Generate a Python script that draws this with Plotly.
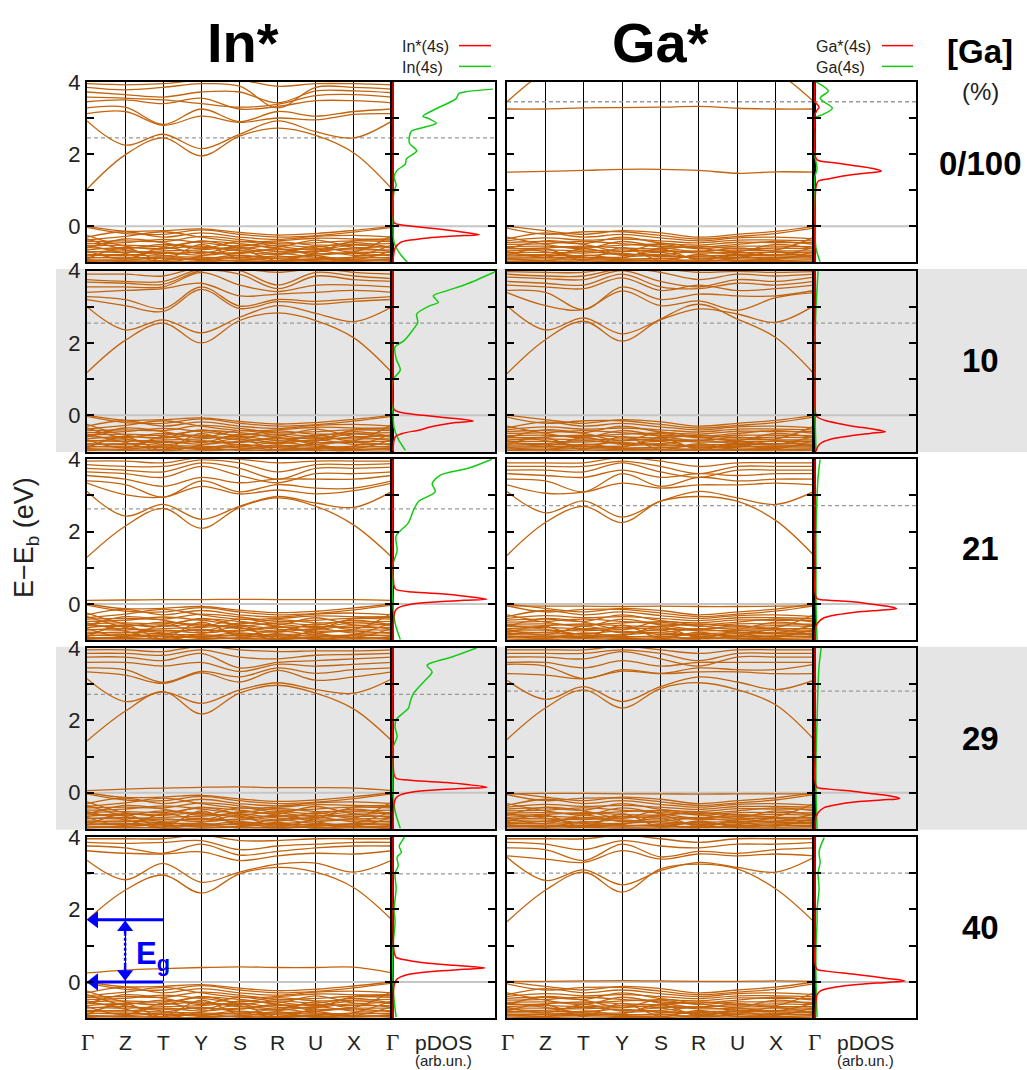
import plotly.graph_objects as go

W, H = 1027, 1070

# ---------------- data ----------------
K_LABELS = ["Γ", "Z", "T", "Y", "S", "R", "U", "X", "Γ"]
K_POS = [0, 1, 2, 3, 4, 5, 6, 7, 8]
ROW_LABELS = ["0/100", "10", "21", "29", "40"]
COL_TITLES = ["In*", "Ga*"]
RED_NAMES = ["In*(4s)", "Ga*(4s)"]
GREEN_NAMES = ["In(4s)", "Ga(4s)"]
E_MAJOR = [0, 2, 4]
E_MINOR_STEP = 1
DASHED_IN = [2.45, 2.55, 2.63, 2.72, 2.98]
DASHED_GA = [3.45, 2.55, 2.72, 2.81, 3.00]
EG_TOP = 1.72

# valence-band tangle (values at Γ Z T Y S R U X Γ)
VB_IN = [
    [0.00, -0.13, -0.12, -0.07, -0.17, -0.24, -0.20, -0.11, 0.00],
    [-0.03, -0.20, -0.22, -0.10, -0.22, -0.30, -0.26, -0.16, -0.03],
    [-0.30, -0.15, -0.30, -0.18, -0.30, -0.36, -0.28, -0.25, -0.30],
    [-0.38, -0.28, -0.15, -0.30, -0.42, -0.40, -0.33, -0.35, -0.38],
    [-0.42, -0.40, -0.42, -0.28, -0.36, -0.48, -0.45, -0.40, -0.42],
    [-0.48, -0.45, -0.36, -0.45, -0.55, -0.43, -0.52, -0.50, -0.48],
    [-0.55, -0.52, -0.55, -0.42, -0.48, -0.58, -0.38, -0.58, -0.55],
    [-0.58, -0.62, -0.50, -0.58, -0.62, -0.52, -0.58, -0.45, -0.58],
    [-0.65, -0.58, -0.62, -0.55, -0.68, -0.65, -0.62, -0.65, -0.65],
    [-0.70, -0.72, -0.68, -0.65, -0.58, -0.70, -0.70, -0.60, -0.70],
    [-0.72, -0.68, -0.75, -0.72, -0.75, -0.62, -0.75, -0.72, -0.72],
    [-0.78, -0.80, -0.72, -0.80, -0.72, -0.78, -0.68, -0.80, -0.78],
    [-0.82, -0.78, -0.82, -0.70, -0.82, -0.85, -0.80, -0.75, -0.82],
    [-0.86, -0.88, -0.85, -0.85, -0.88, -0.75, -0.85, -0.88, -0.86],
    [-0.88, -0.85, -0.90, -0.90, -0.80, -0.90, -0.92, -0.85, -0.88],
    [-0.92, -0.93, -0.88, -0.95, -0.93, -0.88, -0.88, -0.93, -0.92],
    [-0.95, -0.97, -0.95, -0.88, -0.97, -0.95, -0.96, -0.97, -0.95],
    [-0.98, -0.95, -0.98, -0.98, -0.95, -0.98, -0.95, -1.02, -0.98],
    [-0.60, -0.35, -0.45, -0.62, -0.42, -0.55, -0.65, -0.52, -0.60],
    [-0.25, -0.55, -0.62, -0.40, -0.60, -0.75, -0.55, -0.70, -0.25],
    [-0.68, -0.90, -0.58, -0.75, -0.52, -0.62, -0.80, -0.92, -0.68],
    [-0.35, -0.65, -0.80, -0.92, -0.85, -0.95, -0.72, -0.40, -0.35],
    [-0.52, -0.75, -0.95, -0.50, -0.90, -0.82, -0.98, -0.85, -0.52],
    [-0.90, -0.60, -0.98, -0.82, -0.65, -0.96, -0.90, -0.95, -0.90],
]
VB_GA = [
    [0.00, -0.12, -0.22, -0.12, -0.18, -0.30, -0.22, -0.14, 0.00],
    [-0.05, -0.22, -0.15, -0.15, -0.25, -0.35, -0.28, -0.20, -0.05],
    [-0.35, -0.18, -0.30, -0.22, -0.32, -0.40, -0.32, -0.30, -0.35],
    [-0.40, -0.32, -0.38, -0.35, -0.40, -0.46, -0.38, -0.38, -0.40],
    [-0.45, -0.42, -0.48, -0.30, -0.46, -0.52, -0.44, -0.45, -0.45],
    [-0.50, -0.48, -0.42, -0.48, -0.55, -0.58, -0.50, -0.42, -0.50],
    [-0.56, -0.55, -0.58, -0.52, -0.50, -0.62, -0.55, -0.55, -0.56],
    [-0.62, -0.60, -0.55, -0.60, -0.62, -0.55, -0.62, -0.60, -0.62],
    [-0.68, -0.65, -0.68, -0.65, -0.70, -0.68, -0.66, -0.68, -0.68],
    [-0.72, -0.72, -0.74, -0.70, -0.66, -0.74, -0.72, -0.72, -0.72],
    [-0.76, -0.78, -0.70, -0.78, -0.78, -0.70, -0.78, -0.78, -0.76],
    [-0.82, -0.80, -0.82, -0.75, -0.84, -0.82, -0.80, -0.82, -0.82],
    [-0.85, -0.86, -0.86, -0.85, -0.80, -0.88, -0.86, -0.86, -0.85],
    [-0.90, -0.90, -0.90, -0.90, -0.90, -0.84, -0.90, -0.90, -0.90],
    [-0.93, -0.94, -0.92, -0.95, -0.94, -0.93, -0.94, -0.95, -0.93],
    [-0.97, -0.98, -0.96, -0.98, -0.98, -0.96, -0.97, -0.98, -0.97],
    [-0.30, -0.50, -0.62, -0.42, -0.58, -0.70, -0.60, -0.65, -0.30],
    [-0.62, -0.40, -0.50, -0.70, -0.48, -0.60, -0.70, -0.50, -0.62],
    [-0.70, -0.85, -0.62, -0.80, -0.72, -0.90, -0.82, -0.92, -0.70],
    [-0.58, -0.70, -0.85, -0.92, -0.88, -0.97, -0.74, -0.80, -0.58],
    [-0.80, -0.62, -0.95, -0.58, -0.95, -0.78, -0.95, -0.88, -0.80],
    [-0.88, -0.95, -0.80, -0.88, -0.62, -0.95, -0.88, -0.70, -0.88],
]

# conduction bands, In* column
CB_IN_0 = [
    [1.03, 1.98, 2.45, 1.95, 2.50, 2.72, 2.52, 2.03, 1.03],
    [2.92, 2.25, 2.55, 2.15, 2.55, 2.92, 2.62, 2.45, 2.92],
    [3.12, 3.18, 2.80, 3.05, 2.88, 3.00, 2.95, 3.10, 3.12],
    [3.28, 3.30, 2.82, 3.25, 2.90, 3.18, 3.05, 3.18, 3.25],
    [3.45, 3.50, 3.40, 3.55, 3.25, 3.32, 3.48, 3.48, 3.42],
    [3.58, 3.55, 3.50, 3.40, 3.30, 3.38, 3.62, 3.65, 3.58],
    [3.72, 3.65, 3.58, 3.72, 3.72, 3.42, 3.75, 3.75, 3.70],
    [3.85, 3.78, 3.85, 3.95, 3.88, 3.28, 3.85, 3.85, 3.80],
    [3.95, 3.92, 3.95, 4.05, 4.05, 3.88, 3.95, 3.95, 3.92],
]
CB_IN_1 = [
    [1.18, 2.07, 2.55, 2.00, 2.62, 2.83, 2.62, 2.14, 1.18],
    [3.00, 2.36, 2.64, 2.28, 2.71, 3.03, 2.82, 2.59, 3.00],
    [3.20, 3.03, 2.87, 3.48, 2.95, 3.14, 3.07, 3.15, 3.20],
    [3.28, 3.20, 2.95, 3.55, 3.02, 3.20, 3.15, 3.22, 3.28],
    [3.40, 3.45, 3.50, 3.65, 3.30, 3.35, 3.40, 3.45, 3.40],
    [3.55, 3.55, 3.55, 3.95, 3.60, 3.42, 3.60, 3.60, 3.55],
    [3.68, 3.65, 3.62, 4.00, 3.90, 3.50, 3.85, 3.75, 3.70],
    [3.75, 3.70, 3.70, 4.05, 4.00, 3.60, 3.95, 3.85, 3.78],
    [3.90, 3.90, 3.85, 4.10, 4.05, 3.95, 4.05, 3.95, 3.90],
]
CB_IN_2 = [
    [1.29, 2.15, 2.64, 2.09, 2.67, 2.93, 2.70, 2.18, 1.29],
    [3.11, 2.43, 2.75, 2.34, 2.70, 2.97, 2.79, 2.67, 3.11],
    [3.34, 3.02, 2.95, 3.25, 3.04, 3.15, 3.04, 3.13, 3.34],
    [3.40, 3.30, 2.95, 3.40, 3.10, 3.30, 3.20, 3.20, 3.40],
    [3.55, 3.45, 3.25, 3.50, 3.35, 3.45, 3.45, 3.45, 3.55],
    [3.65, 3.60, 3.50, 3.80, 3.55, 3.35, 3.60, 3.60, 3.65],
    [3.75, 3.70, 3.65, 3.90, 3.75, 3.45, 3.75, 3.75, 3.78],
    [3.85, 3.80, 3.80, 3.98, 3.90, 3.65, 3.85, 3.85, 3.88],
    [3.95, 3.95, 3.90, 4.05, 4.00, 3.90, 3.95, 3.95, 3.95],
]
CB_IN_3 = [
    [1.43, 2.25, 2.79, 2.18, 2.75, 2.97, 2.75, 2.31, 1.43],
    [3.15, 2.52, 2.79, 2.47, 2.84, 3.04, 2.85, 2.75, 3.15],
    [3.34, 3.25, 3.02, 3.31, 3.06, 3.38, 3.11, 3.20, 3.34],
    [3.45, 3.40, 3.05, 3.35, 3.20, 3.45, 3.30, 3.40, 3.45],
    [3.60, 3.60, 3.50, 3.60, 3.35, 3.55, 3.50, 3.55, 3.60],
    [3.75, 3.75, 3.65, 3.85, 3.45, 3.60, 3.65, 3.70, 3.75],
    [3.85, 3.85, 3.80, 3.95, 3.75, 3.70, 3.80, 3.82, 3.85],
    [3.95, 3.95, 3.90, 4.05, 3.95, 3.90, 3.92, 3.92, 3.95],
]
CB_IN_4 = [
    [1.71, 2.53, 2.95, 2.45, 2.98, 3.16, 3.03, 2.60, 1.71],
    [3.36, 2.82, 3.27, 2.75, 3.03, 3.25, 3.28, 3.03, 3.36],
    [3.62, 3.55, 3.53, 3.59, 3.35, 3.48, 3.55, 3.53, 3.62],
    [3.75, 3.70, 3.55, 3.80, 3.50, 3.60, 3.70, 3.75, 3.75],
    [3.85, 3.82, 3.85, 3.90, 3.65, 3.75, 3.80, 3.85, 3.85],
    [3.95, 3.95, 3.95, 4.05, 3.90, 3.90, 3.95, 3.95, 3.95],
]
# conduction bands, Ga* column
CB_GA_0 = [
    [1.50, 1.52, 1.55, 1.58, 1.58, 1.55, 1.47, 1.51, 1.50],
    [3.25, 3.25, 3.28, 3.29, 3.30, 3.32, 3.27, 3.25, 3.25],
    [3.45, 4.30, 4.80, 4.80, 4.80, 4.80, 4.80, 4.30, 3.45],
]
CB_GA_1 = [
    [1.15, 2.09, 2.60, 2.05, 2.66, 3.07, 2.66, 2.15, 1.15],
    [3.03, 2.36, 2.69, 2.25, 2.64, 2.94, 2.80, 2.57, 3.03],
    [3.39, 3.03, 2.92, 3.44, 3.03, 3.16, 2.90, 3.25, 3.39],
    [3.45, 3.40, 2.92, 3.55, 3.20, 3.35, 3.30, 3.30, 3.45],
    [3.60, 3.55, 3.50, 3.80, 3.45, 3.60, 3.45, 3.50, 3.60],
    [3.70, 3.65, 3.60, 3.90, 3.55, 3.50, 3.65, 3.60, 3.70],
    [3.82, 3.78, 3.75, 4.00, 3.70, 3.55, 3.75, 3.70, 3.82],
    [3.90, 3.85, 3.85, 4.05, 3.95, 3.75, 3.90, 3.85, 3.90],
    [3.97, 3.95, 3.95, 4.10, 4.05, 3.95, 3.98, 3.95, 3.97],
]
CB_GA_2 = [
    [1.34, 2.25, 2.70, 2.25, 2.84, 2.97, 2.84, 2.31, 1.34],
    [3.11, 2.52, 2.85, 2.40, 2.84, 3.11, 2.93, 2.75, 3.11],
    [3.29, 3.06, 3.09, 3.34, 3.20, 3.29, 3.29, 3.34, 3.29],
    [3.45, 3.40, 3.10, 3.60, 3.25, 3.50, 3.40, 3.45, 3.45],
    [3.60, 3.55, 3.50, 3.70, 3.50, 3.60, 3.55, 3.60, 3.60],
    [3.70, 3.70, 3.65, 3.90, 3.65, 3.50, 3.70, 3.70, 3.70],
    [3.80, 3.80, 3.80, 3.95, 3.80, 3.60, 3.80, 3.80, 3.80],
    [3.90, 3.90, 3.90, 4.05, 3.95, 3.80, 3.90, 3.90, 3.90],
]
CB_GA_3 = [
    [1.47, 2.34, 2.84, 2.34, 2.88, 3.04, 2.85, 2.43, 1.47],
    [3.11, 2.58, 2.93, 2.52, 2.93, 3.20, 3.06, 2.85, 3.11],
    [3.29, 3.25, 3.15, 3.36, 3.29, 3.34, 3.34, 3.29, 3.29],
    [3.55, 3.50, 3.15, 3.40, 3.30, 3.45, 3.40, 3.40, 3.55],
    [3.60, 3.60, 3.45, 3.65, 3.50, 3.60, 3.60, 3.60, 3.60],
    [3.75, 3.75, 3.70, 3.90, 3.70, 3.50, 3.75, 3.75, 3.75],
    [3.85, 3.85, 3.85, 3.95, 3.85, 3.65, 3.85, 3.85, 3.85],
    [3.95, 3.95, 3.95, 4.05, 3.95, 3.85, 3.95, 3.95, 3.95],
]
CB_GA_4 = [
    [1.66, 2.53, 3.03, 2.48, 3.12, 3.25, 3.12, 2.57, 1.66],
    [3.44, 2.80, 3.09, 2.68, 3.07, 3.30, 3.16, 3.03, 3.44],
    [3.48, 3.39, 3.30, 3.62, 3.39, 3.53, 3.48, 3.53, 3.48],
    [3.70, 3.65, 3.35, 3.80, 3.45, 3.60, 3.55, 3.65, 3.70],
    [3.85, 3.80, 3.65, 3.90, 3.75, 3.70, 3.80, 3.80, 3.85],
    [3.95, 3.95, 3.95, 4.05, 3.95, 3.85, 3.95, 3.95, 3.95],
]
# defect (starred-atom) bands in the gap
DEF_IN_2 = [0.10, 0.11, 0.12, 0.12, 0.13, 0.12, 0.12, 0.12, 0.10]
DEF_IN_3 = [0.06, 0.10, 0.13, 0.15, 0.16, 0.14, 0.14, 0.13, 0.06]
DEF_IN_4 = [0.25, 0.33, 0.37, 0.40, 0.42, 0.40, 0.40, 0.41, 0.25]
DEF_GA_2 = [-0.05, -0.06, -0.06, -0.07, -0.06, -0.07, -0.07, -0.06, -0.05]
DEF_GA_3 = [-0.03, -0.02, -0.02, -0.03, -0.03, -0.04, -0.03, -0.03, -0.03]
DEF_GA_4 = [0.02, 0.02, 0.03, 0.04, 0.03, 0.02, 0.02, 0.03, 0.02]

# pDOS curves: energies (E) and intensities (I, arb. units)
RED_IN_0_E = [4.0, 1.0, 0.3, 0.1, 0.06, 0.0, -0.05, -0.1, -0.15, -0.2, -0.23, -0.27, -0.32, -0.38, -0.45, -0.6, -1.0]
RED_IN_0_I = [0.01, 0.01, 0.01, 0.02, 0.05, 0.2, 0.38, 0.53, 0.66, 0.78, 0.845, 0.6, 0.35, 0.18, 0.08, 0.03, 0.01]
GRN_IN_0_E = [-1.0, -0.73, -0.45, 0.0, 0.64, 0.96, 1.14, 1.37, 1.55, 1.73, 1.87, 2.09, 2.30, 2.50, 2.64, 2.77, 2.86, 2.98, 3.05, 3.27, 3.53, 3.68, 3.73, 3.80]
GRN_IN_0_I = [0.15, 0.07, 0.02, 0.01, 0.01, 0.02, 0.04, 0.02, 0.05, 0.13, 0.14, 0.24, 0.17, 0.17, 0.19, 0.35, 0.43, 0.36, 0.30, 0.44, 0.62, 0.65, 0.72, 0.98]
RED_IN_1_E = [4.0, 1.0, 0.3, 0.16, 0.1, 0.05, 0.0, -0.05, -0.1, -0.155, -0.2, -0.26, -0.33, -0.41, -0.5, -0.6, -1.0]
RED_IN_1_I = [0.01, 0.01, 0.01, 0.02, 0.06, 0.15, 0.3, 0.48, 0.66, 0.79, 0.62, 0.48, 0.36, 0.26, 0.1, 0.03, 0.01]
GRN_IN_1_E = [-0.97, -0.65, -0.34, 0.03, 0.98, 1.25, 1.57, 1.89, 2.07, 2.35, 2.57, 2.80, 3.03, 3.12, 3.30, 3.44, 3.62, 3.94, 4.1]
GRN_IN_1_I = [0.13, 0.06, 0.02, 0.01, 0.01, 0.08, 0.04, 0.03, 0.12, 0.20, 0.25, 0.24, 0.37, 0.45, 0.40, 0.53, 0.72, 0.98, 1.1]
RED_IN_2_E = [4.0, 1.0, 0.5, 0.4, 0.33, 0.27, 0.2, 0.16, 0.13, 0.1, 0.06, 0.0, -0.08, -0.15, -0.3, -1.0]
RED_IN_2_I = [0.01, 0.01, 0.02, 0.04, 0.2, 0.53, 0.75, 0.86, 0.92, 0.7, 0.45, 0.2, 0.08, 0.04, 0.02, 0.01]
GRN_IN_2_E = [-0.98, -0.53, 0.0, 1.1, 1.47, 1.88, 2.25, 2.6, 2.84, 3.1, 3.33, 3.56, 3.75, 4.0]
GRN_IN_2_I = [0.08, 0.03, 0.01, 0.01, 0.05, 0.04, 0.16, 0.21, 0.26, 0.42, 0.39, 0.47, 0.74, 0.97]
RED_IN_3_E = [4.0, 1.0, 0.5, 0.4, 0.34, 0.28, 0.22, 0.18, 0.15, 0.12, 0.08, 0.02, -0.06, -0.14, -0.3, -1.0]
RED_IN_3_I = [0.01, 0.01, 0.02, 0.04, 0.2, 0.53, 0.75, 0.87, 0.92, 0.7, 0.45, 0.2, 0.08, 0.04, 0.02, 0.01]
GRN_IN_3_E = [-0.98, -0.5, 0.0, 1.0, 1.25, 1.56, 1.8, 2.02, 2.34, 2.55, 2.75, 2.95, 3.1, 3.34, 3.52, 3.75, 4.0]
GRN_IN_3_I = [0.08, 0.03, 0.01, 0.01, 0.01, 0.05, 0.03, 0.04, 0.16, 0.18, 0.21, 0.27, 0.32, 0.39, 0.34, 0.58, 0.82]
RED_IN_4_E = [4.0, 1.5, 0.85, 0.68, 0.6, 0.52, 0.46, 0.42, 0.39, 0.35, 0.3, 0.22, 0.12, 0.05, -0.1, -1.0]
RED_IN_4_I = [0.01, 0.01, 0.02, 0.04, 0.15, 0.35, 0.6, 0.8, 0.90, 0.7, 0.42, 0.18, 0.07, 0.04, 0.02, 0.01]
GRN_IN_4_E = [-0.97, -0.5, 0.0, 1.0, 1.66, 2.0, 2.57, 3.0, 3.2, 3.45, 3.57, 3.75, 3.9, 4.0]
GRN_IN_4_I = [0.04, 0.02, 0.01, 0.01, 0.03, 0.02, 0.04, 0.03, 0.06, 0.05, 0.09, 0.07, 0.10, 0.12]

RED_GA_0_E = [4.0, 3.45, 3.38, 3.3, 3.22, 3.1, 2.5, 2.0, 1.84, 1.76, 1.68, 1.6, 1.53, 1.47, 1.4, 1.32, 1.25, 1.1, 0.5, -1.0]
RED_GA_0_I = [0.01, 0.01, 0.03, 0.05, 0.03, 0.01, 0.01, 0.01, 0.03, 0.2, 0.4, 0.58, 0.66, 0.5, 0.3, 0.15, 0.04, 0.02, 0.01, 0.01]
GRN_GA_0_E = [-0.98, -0.62, 0.0, 1.38, 1.6, 1.93, 3.0, 3.1, 3.27, 3.55, 3.75, 4.0]
GRN_GA_0_I = [0.06, 0.02, 0.01, 0.01, 0.03, 0.01, 0.01, 0.09, 0.18, 0.06, 0.14, 0.02]
RED_GA_1_E = [4.0, 1.0, 0.2, 0.0, -0.06, -0.15, -0.23, -0.3, -0.38, -0.45, -0.5, -0.57, -0.65, -0.75, -0.85, -1.0]
RED_GA_1_I = [0.01, 0.01, 0.01, 0.02, 0.04, 0.12, 0.25, 0.38, 0.58, 0.70, 0.55, 0.35, 0.18, 0.08, 0.04, 0.02]
GRN_GA_1_E = [-1.0, 0.0, 1.0, 2.0, 3.0, 3.5, 4.0]
GRN_GA_1_I = [0.02, 0.01, 0.01, 0.01, 0.02, 0.03, 0.04]
RED_GA_2_E = [4.0, 1.0, 0.3, 0.15, 0.1, 0.06, 0.0, -0.05, -0.09, -0.13, -0.17, -0.22, -0.3, -0.38, -0.48, -0.6, -1.0]
RED_GA_2_I = [0.01, 0.01, 0.01, 0.03, 0.15, 0.38, 0.55, 0.68, 0.77, 0.81, 0.65, 0.42, 0.22, 0.1, 0.05, 0.02, 0.01]
GRN_GA_2_E = [-1.0, 0.0, 1.0, 2.0, 3.0, 3.5, 4.0]
GRN_GA_2_I = [0.03, 0.02, 0.02, 0.02, 0.03, 0.04, 0.06]
RED_GA_3_E = [4.0, 1.0, 0.3, 0.15, 0.1, 0.04, -0.02, -0.07, -0.12, -0.16, -0.2, -0.25, -0.33, -0.41, -0.52, -0.65, -1.0]
RED_GA_3_I = [0.01, 0.01, 0.01, 0.03, 0.15, 0.38, 0.55, 0.7, 0.8, 0.84, 0.66, 0.42, 0.22, 0.1, 0.05, 0.02, 0.01]
GRN_GA_3_E = [-1.0, 0.0, 1.0, 2.0, 3.0, 3.5, 4.0]
GRN_GA_3_I = [0.03, 0.02, 0.02, 0.03, 0.04, 0.05, 0.07]
RED_GA_4_E = [4.0, 1.2, 0.5, 0.35, 0.3, 0.22, 0.15, 0.1, 0.06, 0.03, -0.01, -0.05, -0.1, -0.17, -0.25, -0.35, -0.5, -1.0]
RED_GA_4_I = [0.01, 0.01, 0.01, 0.03, 0.12, 0.38, 0.58, 0.72, 0.84, 0.89, 0.72, 0.5, 0.3, 0.15, 0.06, 0.03, 0.02, 0.01]
GRN_GA_4_E = [-0.97, 0.0, 1.0, 1.66, 2.0, 2.57, 3.0, 3.3, 3.6, 3.98]
GRN_GA_4_I = [0.03, 0.02, 0.02, 0.03, 0.03, 0.05, 0.04, 0.06, 0.05, 0.10]

# ---------------- assembled panel table ----------------
PANELS = [
    [dict(cb=CB_IN_0, dft=None, re=RED_IN_0_E, ri=RED_IN_0_I, ge=GRN_IN_0_E, gi=GRN_IN_0_I, vb=VB_IN, dash=DASHED_IN[0]),
     dict(cb=CB_GA_0, dft=None, re=RED_GA_0_E, ri=RED_GA_0_I, ge=GRN_GA_0_E, gi=GRN_GA_0_I, vb=VB_GA, dash=DASHED_GA[0])],
    [dict(cb=CB_IN_1, dft=None, re=RED_IN_1_E, ri=RED_IN_1_I, ge=GRN_IN_1_E, gi=GRN_IN_1_I, vb=VB_IN, dash=DASHED_IN[1]),
     dict(cb=CB_GA_1, dft=None, re=RED_GA_1_E, ri=RED_GA_1_I, ge=GRN_GA_1_E, gi=GRN_GA_1_I, vb=VB_GA, dash=DASHED_GA[1])],
    [dict(cb=CB_IN_2, dft=DEF_IN_2, re=RED_IN_2_E, ri=RED_IN_2_I, ge=GRN_IN_2_E, gi=GRN_IN_2_I, vb=VB_IN, dash=DASHED_IN[2]),
     dict(cb=CB_GA_2, dft=DEF_GA_2, re=RED_GA_2_E, ri=RED_GA_2_I, ge=GRN_GA_2_E, gi=GRN_GA_2_I, vb=VB_GA, dash=DASHED_GA[2])],
    [dict(cb=CB_IN_3, dft=DEF_IN_3, re=RED_IN_3_E, ri=RED_IN_3_I, ge=GRN_IN_3_E, gi=GRN_IN_3_I, vb=VB_IN, dash=DASHED_IN[3]),
     dict(cb=CB_GA_3, dft=DEF_GA_3, re=RED_GA_3_E, ri=RED_GA_3_I, ge=GRN_GA_3_E, gi=GRN_GA_3_I, vb=VB_GA, dash=DASHED_GA[3])],
    [dict(cb=CB_IN_4, dft=DEF_IN_4, re=RED_IN_4_E, ri=RED_IN_4_I, ge=GRN_IN_4_E, gi=GRN_IN_4_I, vb=VB_IN, dash=DASHED_IN[4]),
     dict(cb=CB_GA_4, dft=DEF_GA_4, re=RED_GA_4_E, ri=RED_GA_4_I, ge=GRN_GA_4_E, gi=GRN_GA_4_I, vb=VB_GA, dash=DASHED_GA[4])],
]

# ---------------- geometry / style ----------------
BAND_X = [(87, 392), (507, 814)]
PDOS_X = [(392, 495), (814, 916)]
ROW_Y = [(70.7, 253.3), (261.5, 444.5), (452.3, 635.3), (643.2, 826.2), (834.3, 1017.7)]
GREY_ROWS = [(260, 445), (642, 827)]
ROW_LABEL_Y = [153, 352, 543, 735, 926]

BAND_COLOR = "#c4640c"
RED = "#ff0000"
GREEN = "#11cc11"
BLUE = "#0000ff"
SANS = "Liberation Sans, Arial, Helvetica, sans-serif"
SERIF = "Liberation Serif, Times New Roman, serif"
TXT = "#222222"


def px(x):
    return x / W


def py(y):
    return 1 - y / H


fig = go.Figure()
layout = {}
annotations = []
shapes = []


def aname(i):
    return ("x", "y") if i == 1 else (f"x{i}", f"y{i}")


def lkey(i):
    return ("xaxis", "yaxis") if i == 1 else (f"xaxis{i}", f"yaxis{i}")


def yaxis_dict(i, ytop, ybot, labels):
    return dict(domain=[py(ybot), py(ytop)], range=[-1, 4], anchor=aname(i)[0],
                tickmode="array", tickvals=E_MAJOR, showticklabels=labels,
                ticks="inside", ticklen=7, tickwidth=1.5, tickcolor="#000000",
                minor=dict(tick0=0, dtick=E_MINOR_STEP, ticks="inside", ticklen=7,
                           tickwidth=1.5, tickcolor="#000000", showgrid=False),
                showgrid=False, zeroline=False, showline=True, linecolor="#000000",
                linewidth=2, mirror="ticks",
                tickfont=dict(family=SANS, size=22, color=TXT), fixedrange=True)


axis_i = 0
band_axes = {}
pdos_axes = {}
for r in range(5):
    for c in range(2):
        p = PANELS[r][c]
        ytop, ybot = ROW_Y[r]
        axis_i += 1
        bi = axis_i
        band_axes[(r, c)] = bi
        kx, ky = lkey(bi)
        layout[kx] = dict(domain=[px(BAND_X[c][0]), px(BAND_X[c][1])], range=[0, 8],
                          anchor=aname(bi)[1], tickvals=K_POS, showticklabels=False,
                          ticks="", showgrid=True, gridcolor="#000000", gridwidth=1,
                          showline=True, linecolor="#000000", linewidth=2, mirror=True,
                          zeroline=False, fixedrange=True)
        layout[ky] = yaxis_dict(bi, ytop, ybot, c == 0)
        axis_i += 1
        pi = axis_i
        pdos_axes[(r, c)] = pi
        kx, ky = lkey(pi)
        layout[kx] = dict(domain=[px(PDOS_X[c][0]), px(PDOS_X[c][1])], range=[0, 1],
                          anchor=aname(pi)[1], showticklabels=False, ticks="", showgrid=False,
                          showline=True, linecolor="#000000", linewidth=2, mirror=True,
                          zeroline=False, fixedrange=True)
        layout[ky] = yaxis_dict(pi, ytop, ybot, False)

        bxa, bya = aname(bi)
        pxa, pya = aname(pi)
        common = dict(mode="lines", hoverinfo="skip", showlegend=False)
        fig.add_trace(go.Scatter(x=[0, 8], y=[0, 0], xaxis=bxa, yaxis=bya,
                                 line=dict(color="#c6c6c6", width=2), **common))
        fig.add_trace(go.Scatter(x=[0, 1], y=[0, 0], xaxis=pxa, yaxis=pya,
                                 line=dict(color="#c6c6c6", width=2), **common))
        fig.add_trace(go.Scatter(x=[0, 8], y=[p["dash"], p["dash"]], xaxis=bxa, yaxis=bya,
                                 line=dict(color="#9a9a9a", width=1.3, dash="4px,3px"), **common))
        fig.add_trace(go.Scatter(x=[0, 1], y=[p["dash"], p["dash"]], xaxis=pxa, yaxis=pya,
                                 line=dict(color="#9a9a9a", width=1.3, dash="4px,3px"), **common))
        bands = list(p["vb"]) + list(p["cb"]) + ([p["dft"]] if p["dft"] else [])
        xs, ys = [], []
        for b in bands:
            xs += K_POS + [None]
            ys += list(b) + [None]
        fig.add_trace(go.Scatter(x=xs, y=ys, xaxis=bxa, yaxis=bya,
                                 line=dict(color=BAND_COLOR, width=1.3, shape="spline", smoothing=1.0),
                                 connectgaps=False, **common))
        fig.add_trace(go.Scatter(x=p["gi"], y=p["ge"], xaxis=pxa, yaxis=pya,
                                 line=dict(color=GREEN, width=1.5, shape="spline", smoothing=0.8), **common))
        fig.add_trace(go.Scatter(x=p["ri"], y=p["re"], xaxis=pxa, yaxis=pya,
                                 line=dict(color=RED, width=1.5, shape="spline", smoothing=0.8), **common))

for (y0, y1) in GREY_ROWS:
    shapes.append(dict(type="rect", xref="paper", yref="paper", x0=px(56), x1=1.0,
                       y0=py(y1), y1=py(y0), fillcolor="#e5e5e5", line=dict(width=0), layer="below"))

TITLE_X = [243, 660]
LEG_TEXT_X = [400, 814]
LEG_LINE_X = [(459, 491), (882, 913)]
for c in range(2):
    annotations.append(dict(text=f"<b>{COL_TITLES[c]}</b>", x=px(TITLE_X[c]), y=py(31), xref="paper",
                            yref="paper", showarrow=False, xanchor="center", yanchor="middle",
                            font=dict(family=SANS, size=56, color="#000000")))
    for name, col, yy in [(RED_NAMES[c], RED, 35), (GREEN_NAMES[c], GREEN, 56)]:
        annotations.append(dict(text=name, x=px(LEG_TEXT_X[c]), y=py(yy), xref="paper", yref="paper",
                                showarrow=False, xanchor="left", yanchor="middle",
                                font=dict(family=SANS, size=16, color=TXT)))
        shapes.append(dict(type="line", xref="paper", yref="paper", x0=px(LEG_LINE_X[c][0]),
                           x1=px(LEG_LINE_X[c][1]), y0=py(yy - 1), y1=py(yy - 1),
                           line=dict(color=col, width=1.5)))

annotations.append(dict(text="<b>[Ga]</b>", x=px(980), y=py(40), xref="paper", yref="paper",
                        showarrow=False, xanchor="center", yanchor="middle",
                        font=dict(family=SANS, size=33, color="#000000")))
annotations.append(dict(text="(%)", x=px(980), y=py(80), xref="paper", yref="paper",
                        showarrow=False, xanchor="center", yanchor="middle",
                        font=dict(family=SANS, size=24, color=TXT)))
for r in range(5):
    annotations.append(dict(text=f"<b>{ROW_LABELS[r]}</b>", x=px(980), y=py(ROW_LABEL_Y[r]),
                            xref="paper", yref="paper", showarrow=False, xanchor="center",
                            yanchor="middle", font=dict(family=SANS, size=33, color="#000000")))

annotations.append(dict(text="E−E<sub>b</sub> (eV)", x=px(26), y=py(532), xref="paper", yref="paper",
                        showarrow=False, textangle=-90, xanchor="center", yanchor="middle",
                        font=dict(family=SANS, size=27, color=TXT)))

for c in range(2):
    bi = band_axes[(4, c)]
    pi = pdos_axes[(4, c)]
    for k, lab in enumerate(K_LABELS):
        fam = SERIF if lab == "Γ" else SANS
        annotations.append(dict(text=lab, x=K_POS[k], y=py(1042), xref=aname(bi)[0], yref="paper",
                                showarrow=False, xanchor="center", yanchor="middle",
                                font=dict(family=fam, size=23 if lab == "Γ" else 21, color=TXT)))
    annotations.append(dict(text="pDOS", x=0.5, y=py(1042), xref=aname(pi)[0], yref="paper",
                            showarrow=False, xanchor="center", yanchor="middle",
                            font=dict(family=SANS, size=21, color=TXT)))
    annotations.append(dict(text="(arb.un.)", x=0.5, y=py(1060), xref=aname(pi)[0], yref="paper",
                            showarrow=False, xanchor="center", yanchor="middle",
                            font=dict(family=SANS, size=15, color=TXT)))

# band-gap (Eg) marker in the last In* panel: shafts as lines, heads as triangle markers
egi = band_axes[(4, 0)]
ex, ey = aname(egi)
for yy in [EG_TOP, 0.0]:
    fig.add_trace(go.Scatter(x=[0.2, 2], y=[yy, yy], xaxis=ex, yaxis=ey, mode="lines",
                             line=dict(color=BLUE, width=3), hoverinfo="skip", showlegend=False))
    fig.add_trace(go.Scatter(x=[0.19], y=[yy], xaxis=ex, yaxis=ey, mode="markers", cliponaxis=False,
                             marker=dict(symbol="triangle-left", size=15, color=BLUE, line=dict(width=0)),
                             hoverinfo="skip", showlegend=False))
fig.add_trace(go.Scatter(x=[1, 1], y=[0.25, 0.45], xaxis=ex, yaxis=ey, mode="lines",
                         line=dict(color=BLUE, width=2.5), hoverinfo="skip", showlegend=False))
fig.add_trace(go.Scatter(x=[1, 1], y=[1.3, 1.5], xaxis=ex, yaxis=ey, mode="lines",
                         line=dict(color=BLUE, width=2.5), hoverinfo="skip", showlegend=False))
fig.add_trace(go.Scatter(x=[1, 1], y=[0.45, 1.3], xaxis=ex, yaxis=ey, mode="lines",
                         line=dict(color=BLUE, width=2.5, dash="3px,2px"), hoverinfo="skip",
                         showlegend=False))
fig.add_trace(go.Scatter(x=[1, 1], y=[EG_TOP - 0.22, 0.23], xaxis=ex, yaxis=ey, mode="markers",
                         marker=dict(symbol=["triangle-up", "triangle-down"], size=14, color=BLUE,
                                     line=dict(width=0)),
                         hoverinfo="skip", showlegend=False))
annotations.append(dict(text="<b>E<sub>g</sub></b>", x=1.22, y=0.72, xref=ex, yref=ey,
                        showarrow=False, xanchor="left", yanchor="middle",
                        font=dict(family=SANS, size=31, color=BLUE)))

fig.update_layout(width=W, height=H, margin=dict(l=0, r=0, t=0, b=0),
                  paper_bgcolor="#ffffff", plot_bgcolor="rgba(0,0,0,0)",
                  showlegend=False, annotations=annotations, shapes=shapes, **layout)

fig.write_html("out.html", config={"displayModeBar": False},
               post_script="document.body.style.margin='0px';document.body.style.overflow='hidden';")
